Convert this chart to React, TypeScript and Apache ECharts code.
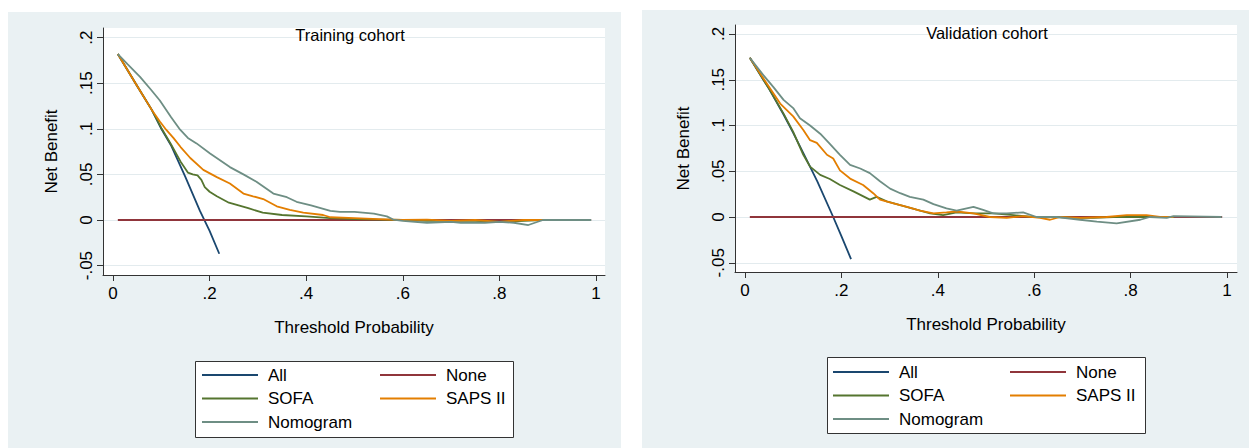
import React, { useEffect, useRef } from "react";
import * as echarts from "echarts";

const FONT = "'Liberation Sans', Arial, Helvetica, sans-serif";

const xTicks = [0, 0.2, 0.4, 0.6, 0.8, 1];
const yTicks = [-0.05, 0, 0.05, 0.1, 0.15, 0.2];
const seriesNames = ["All", "None", "SOFA", "SAPS II", "Nomogram"];
const seriesColors = ["#1a476f", "#90353b", "#55752f", "#e37e00", "#6e8e84"];
const panelTitles = ["Training cohort", "Validation cohort"];
const xTitle = "Threshold Probability";
const yTitle = "Net Benefit";

// Training cohort
const trainAll = [[0.01, 0.182], [0.05, 0.147], [0.08, 0.121], [0.1, 0.1], [0.12, 0.082], [0.15, 0.047], [0.18, 0.01], [0.2, -0.012], [0.22, -0.037]];
const trainNone = [[0.01, 0], [0.99, 0]];
const trainSofa = [[0.01, 0.182], [0.05, 0.147], [0.08, 0.121], [0.1, 0.101], [0.12, 0.083], [0.14, 0.064], [0.155, 0.052], [0.165, 0.05], [0.175, 0.049], [0.183, 0.044], [0.19, 0.036], [0.2, 0.031], [0.215, 0.026], [0.24, 0.019], [0.26, 0.016], [0.28, 0.013], [0.31, 0.008], [0.35, 0.0055], [0.4, 0.004], [0.45, 0.002], [0.5, 0.001], [0.55, 0.0005], [0.6, 0], [0.65, -0.001], [0.7, -0.001], [0.75, -0.001], [0.8, -0.002], [0.85, -0.001], [0.89, 0]];
const trainSaps = [[0.01, 0.182], [0.05, 0.147], [0.08, 0.121], [0.097, 0.108], [0.11, 0.099], [0.125, 0.09], [0.14, 0.08], [0.16, 0.068], [0.187, 0.055], [0.215, 0.047], [0.242, 0.04], [0.27, 0.029], [0.29, 0.026], [0.311, 0.023], [0.339, 0.015], [0.366, 0.011], [0.394, 0.008], [0.435, 0.0055], [0.45, 0.003], [0.5, 0.002], [0.55, 0.001], [0.6, 0], [0.65, 0.0005], [0.7, -0.001], [0.75, 0], [0.8, -0.002], [0.85, 0], [0.89, 0]];
const trainNomo = [[0.01, 0.182], [0.03, 0.171], [0.056, 0.157], [0.08, 0.142], [0.097, 0.131], [0.12, 0.113], [0.139, 0.099], [0.155, 0.09], [0.173, 0.084], [0.201, 0.073], [0.242, 0.058], [0.27, 0.05], [0.297, 0.042], [0.332, 0.029], [0.36, 0.025], [0.38, 0.02], [0.41, 0.016], [0.45, 0.01], [0.47, 0.009], [0.5, 0.009], [0.54, 0.007], [0.567, 0.004], [0.58, 0.0005], [0.6, -0.001], [0.65, -0.003], [0.7, -0.002], [0.72, -0.003], [0.77, -0.003], [0.8, -0.002], [0.83, -0.003], [0.86, -0.0055], [0.89, 0], [0.99, 0]];

// Validation cohort
const validAll = [[0.01, 0.174], [0.05, 0.14], [0.08, 0.112], [0.1, 0.092], [0.12, 0.071], [0.15, 0.039], [0.183, 0], [0.2, -0.021], [0.22, -0.046]];
const validNone = [[0.01, 0], [0.99, 0]];
const validSofa = [[0.01, 0.174], [0.05, 0.14], [0.08, 0.113], [0.1, 0.093], [0.121, 0.068], [0.135, 0.055], [0.156, 0.046], [0.176, 0.0415], [0.197, 0.035], [0.225, 0.028], [0.259, 0.019], [0.273, 0.022], [0.294, 0.017], [0.322, 0.013], [0.356, 0.008], [0.384, 0.004], [0.411, 0.002], [0.439, 0.005], [0.474, 0.004], [0.515, 0.004], [0.557, 0.002], [0.598, 0], [0.647, 0], [0.682, -0.001], [0.723, -0.001], [0.764, 0], [0.82, 0], [0.875, 0], [0.89, 0]];
const validSaps = [[0.01, 0.174], [0.04, 0.15], [0.073, 0.124], [0.1, 0.11], [0.121, 0.095], [0.135, 0.084], [0.149, 0.081], [0.17, 0.068], [0.183, 0.064], [0.197, 0.051], [0.218, 0.042], [0.245, 0.035], [0.266, 0.026], [0.28, 0.019], [0.308, 0.015], [0.336, 0.011], [0.363, 0.007], [0.391, 0.004], [0.418, 0.005], [0.439, 0.006], [0.474, 0.004], [0.508, 0], [0.543, -0.001], [0.577, 0.001], [0.612, -0.001], [0.633, -0.003], [0.654, 0], [0.695, -0.001], [0.75, 0], [0.792, 0.002], [0.833, 0.002], [0.861, 0], [0.889, 0]];
const validNomo = [[0.01, 0.174], [0.038, 0.155], [0.059, 0.142], [0.08, 0.128], [0.1, 0.119], [0.114, 0.108], [0.135, 0.1], [0.156, 0.091], [0.176, 0.08], [0.197, 0.068], [0.218, 0.057], [0.239, 0.053], [0.259, 0.048], [0.28, 0.039], [0.301, 0.031], [0.322, 0.026], [0.342, 0.022], [0.37, 0.019], [0.391, 0.014], [0.418, 0.0095], [0.439, 0.007], [0.474, 0.011], [0.494, 0.0077], [0.515, 0.004], [0.543, 0.004], [0.577, 0.005], [0.605, 0], [0.647, 0], [0.695, -0.003], [0.73, -0.005], [0.771, -0.007], [0.82, -0.003], [0.84, 0], [0.875, -0.001], [0.889, 0.001], [0.989, 0]];

const trainSeries = [trainAll, trainNone, trainSofa, trainSaps, trainNomo];
const validSeries = [validAll, validNone, validSofa, validSaps, validNomo];

const fmt = (v: number) => {
  const r = Math.round(v * 100) / 100;
  if (r === 0) return "0";
  if (r === 1) return "1";
  return String(r).replace("0.", ".");
};

const BG = "#eaf1f3";
const AX = "#333333";

function makeX(gridIndex: number, min: number, max: number) {
  return {
    type: "value",
    gridIndex,
    min,
    max,
    name: xTitle,
    nameLocation: "middle",
    nameGap: 44,
    nameTextStyle: { fontFamily: FONT, fontSize: 17, color: "#000" },
    axisLine: { show: true, onZero: false, lineStyle: { color: AX, width: 1 } },
    axisTick: { show: true, length: 6, customValues: xTicks, lineStyle: { color: AX, width: 1 } },
    axisLabel: { customValues: xTicks, formatter: fmt, fontFamily: FONT, fontSize: 17, color: "#000", margin: 10 },
    splitLine: { show: false },
  };
}

function makeY(gridIndex: number, min: number, max: number) {
  return {
    type: "value",
    gridIndex,
    min,
    max,
    name: yTitle,
    nameLocation: "middle",
    nameGap: 43.5,
    nameTextStyle: { fontFamily: FONT, fontSize: 17, color: "#000" },
    axisLine: { show: true, onZero: false, lineStyle: { color: AX, width: 1 } },
    axisTick: { show: true, length: 6, customValues: yTicks, lineStyle: { color: AX, width: 1 } },
    axisLabel: { customValues: yTicks, formatter: fmt, rotate: 90, fontFamily: FONT, fontSize: 17, color: "#000", margin: 8 },
    splitLine: { show: true, lineStyle: { color: "#e3ebee", width: 1 } },
  };
}

function makeLegend(left: number, top: number, names: string[]) {
  return {
    orient: "vertical",
    left,
    top,
    data: names,
    icon: "rect",
    itemWidth: 56,
    itemHeight: 2,
    itemGap: 6.5,
    selectedMode: false,
    textStyle: { fontFamily: FONT, fontSize: 17, color: "#000", padding: [0, 0, 0, 5] },
  };
}

export default function App() {
  const ref = useRef<HTMLDivElement>(null);
  useEffect(() => {
    if (!ref.current) return;
    const chart = echarts.init(ref.current, undefined, { renderer: "svg" });
    const series: any[] = [];
    [trainSeries, validSeries].forEach((group, gi) => {
      group.forEach((data, si) => {
        series.push({
          type: "line",
          name: seriesNames[si],
          xAxisIndex: gi,
          yAxisIndex: gi,
          data,
          symbol: "none",
          showSymbol: false,
          smooth: false,
          lineStyle: { color: seriesColors[si], width: 1.8 },
          itemStyle: { color: seriesColors[si] },
          emphasis: { disabled: true },
        });
      });
    });
    chart.setOption({
      animation: false,
      backgroundColor: "#ffffff",
      color: seriesColors,
      grid: [
        { left: 103, top: 28, width: 502, height: 247, show: true, backgroundColor: "#ffffff", borderWidth: 0, containLabel: false },
        { left: 735, top: 25, width: 502, height: 247, show: true, backgroundColor: "#ffffff", borderWidth: 0, containLabel: false },
      ],
      xAxis: [makeX(0, -10 / 483, 1 + 9 / 483), makeX(1, -10 / 482, 1 + 10 / 482)],
      yAxis: [makeY(0, -55 / 912, 192 / 912), makeY(1, -55 / 915, 192 / 915)],
      legend: [
        makeLegend(197, 361.5, ["All", "SOFA", "Nomogram"]),
        makeLegend(375, 361.5, ["None", "SAPS II"]),
        makeLegend(828, 358.5, ["All", "SOFA", "Nomogram"]),
        makeLegend(1005, 358.5, ["None", "SAPS II"]),
      ],
      graphic: [
        { type: "rect", z: -10, silent: true, shape: { x: 8, y: 12, width: 613, height: 436 }, style: { fill: BG } },
        { type: "rect", z: -10, silent: true, shape: { x: 642, y: 10, width: 607, height: 438 }, style: { fill: BG } },
        { type: "rect", z: 1, silent: true, shape: { x: 195.5, y: 361.5, width: 318, height: 76 }, style: { fill: "#ffffff", stroke: AX, lineWidth: 1 } },
        { type: "rect", z: 1, silent: true, shape: { x: 827.5, y: 357.5, width: 318, height: 76 }, style: { fill: "#ffffff", stroke: AX, lineWidth: 1 } },
        { type: "text", z: 10, silent: true, x: 350, y: 35, style: { text: panelTitles[0], align: "center", verticalAlign: "middle", fontFamily: FONT, fontSize: 16.5, fill: "#000" } },
        { type: "text", z: 10, silent: true, x: 987, y: 33, style: { text: panelTitles[1], align: "center", verticalAlign: "middle", fontFamily: FONT, fontSize: 16.5, fill: "#000" } },
      ],
      series,
    });
    return () => chart.dispose();
  }, []);
  return (
    <div
      ref={ref}
      style={{ position: "fixed", left: 0, top: 0, width: 1249, height: 448, background: "#fff" }}
    />
  );
}
